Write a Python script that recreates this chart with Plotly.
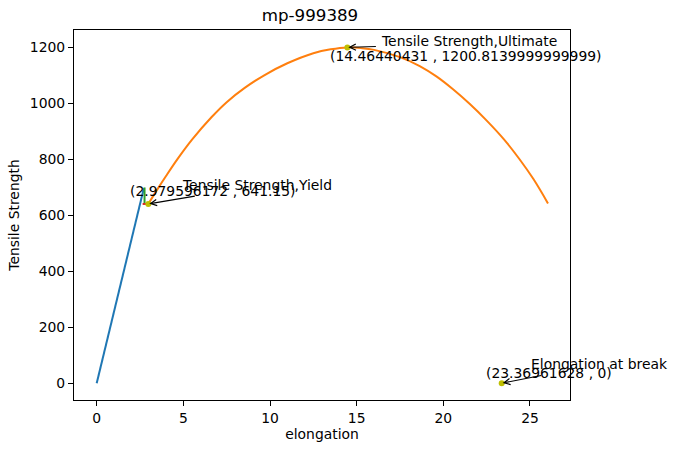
import plotly.graph_objects as go

# ---- data ----
elastic_x = [0.0, 2.72]
elastic_y = [0.0, 697.0]

plastic_x = [2.98, 3.5, 4.0, 4.69, 5.5, 6.62, 7.5, 8.54, 9.69, 11.0, 12.5, 13.5, 14.46,
             15.3, 16.0, 17.5, 18.64, 19.6, 20.56, 21.5, 22.49, 23.5, 24.41, 25.2, 26.04]
plastic_y = [641.15, 693, 741, 804, 871, 951, 1005, 1056, 1102, 1144, 1180, 1194, 1200.81,
             1198, 1192, 1166, 1134, 1097, 1051, 1000, 940, 872, 800, 730, 643]

green_x = [2.76, 2.76]
green_y = [641.0, 700.0]

red_x = [2.65, 2.9]
red_y = [641.0, 641.0]

key_x = [2.979596172, 14.46440431, 23.36961628]
key_y = [641.15, 1200.8139999999999, 0.0]
key_labels = ["Tensile Strength,Yield", "Tensile Strength,Ultimate", "Elongation at break"]
key_coords = ["(2.979596172 , 641.15)", "(14.46440431 , 1200.8139999999999)", "(23.36961628 , 0)"]

x_ticks = [0, 5, 10, 15, 20, 25]
y_ticks = [0, 200, 400, 600, 800, 1000, 1200]

# ---- styling / layout offsets (pixels) ----
arrow_tail = [(48, -8), (30, -1), (41, -8)]
label_shift = [(32, 19), (32, 6), (27, 19)]
coord_shift = [(-20, 13), (-19, -9), (-18, 10)]

FONT = "DejaVu Sans"
fs = 13.9

fig = go.Figure()
lw = 2.0
fig.add_trace(go.Scatter(x=elastic_x, y=elastic_y, mode="lines",
                         line=dict(color="#1f77b4", width=lw), showlegend=False))
fig.add_trace(go.Scatter(x=plastic_x, y=plastic_y, mode="lines",
                         line=dict(color="#ff7f0e", width=lw, shape="spline"), showlegend=False))
fig.add_trace(go.Scatter(x=green_x, y=green_y, mode="lines",
                         line=dict(color="#2ca02c", width=lw), showlegend=False))
fig.add_trace(go.Scatter(x=red_x, y=red_y, mode="lines",
                         line=dict(color="#d62728", width=lw), showlegend=False))
fig.add_trace(go.Scatter(x=key_x, y=key_y, mode="markers",
                         marker=dict(color="#bfbf00", size=6), showlegend=False))

annotations = []
for i in range(len(key_x)):
    annotations.append(dict(x=key_x[i], y=key_y[i], xref="x", yref="y", text="",
                            showarrow=True, ax=arrow_tail[i][0], ay=arrow_tail[i][1],
                            arrowhead=5, arrowsize=1.1, arrowwidth=1.1, arrowcolor="black",
                            standoff=1, startstandoff=0))
    annotations.append(dict(x=key_x[i], y=key_y[i], xref="x", yref="y", text=key_labels[i],
                            showarrow=False, xanchor="left", yanchor="middle",
                            xshift=label_shift[i][0], yshift=label_shift[i][1],
                            font=dict(family=FONT, size=fs, color="black")))
    annotations.append(dict(x=key_x[i], y=key_y[i], xref="x", yref="y", text=key_coords[i],
                            showarrow=False, xanchor="left", yanchor="middle",
                            xshift=coord_shift[i][0], yshift=coord_shift[i][1],
                            font=dict(family=FONT, size=fs, color="black")))

axis_common = dict(showline=True, linecolor="black", linewidth=1.1, mirror=True,
                   ticks="outside", ticklen=5, tickwidth=1.1, tickcolor="black",
                   showgrid=False, zeroline=False,
                   tickfont=dict(family=FONT, size=fs, color="black"))

fig.update_layout(
    width=677, height=453,
    margin=dict(l=74, r=107, t=30, b=53),
    paper_bgcolor="white", plot_bgcolor="white",
    title=dict(text="mp-999389", x=0.4757, xanchor="center", xref="paper",
               y=1 - 15 / 453, yref="container", yanchor="middle",
               font=dict(family=FONT, size=16.7, color="black")),
    xaxis=dict(range=[-1.31, 27.31], tickvals=x_ticks,
               title=dict(text="elongation", standoff=4,
                          font=dict(family=FONT, size=fs, color="black")),
               **axis_common),
    yaxis=dict(range=[-60, 1263], tickvals=y_ticks,
               title=dict(text="Tensile Strength", standoff=6,
                          font=dict(family=FONT, size=fs, color="black")),
               **axis_common),
    annotations=annotations,
    font=dict(family=FONT),
)

fig.write_html("out.html",
               config={"displayModeBar": False},
               post_script="document.body.style.margin='0';document.body.style.overflow='hidden';")
